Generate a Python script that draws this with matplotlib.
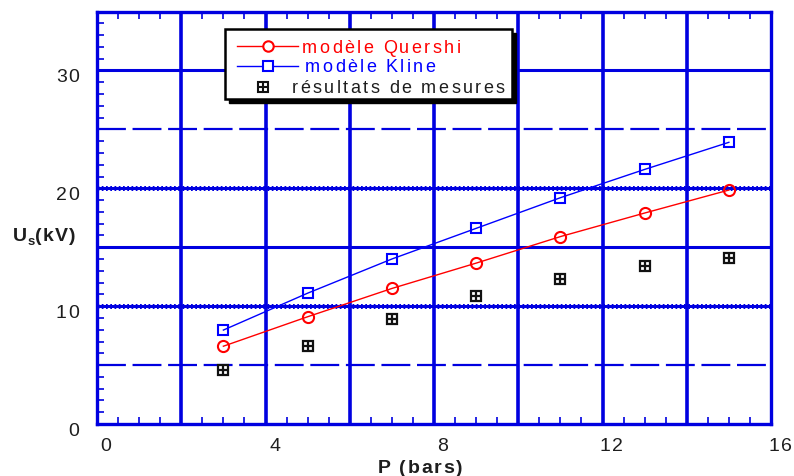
import matplotlib
matplotlib.use("Agg")
import matplotlib.pyplot as plt
from matplotlib import ft2font
from matplotlib.font_manager import findfont, FontProperties
from matplotlib.patches import Rectangle
from matplotlib.lines import Line2D
import numpy as np

plt.rcParams['font.family'] = ['Liberation Sans', 'DejaVu Sans']

# Pressure (bars) and breakdown voltage (kV)
pressure = [3, 5, 7, 9, 11, 13, 15]
u_quershi = [6.6, 9.1, 11.5, 13.65, 15.9, 17.9, 19.85]
u_kline = [7.97, 11.1, 14.0, 16.6, 19.2, 21.6, 23.9]
u_mesures = [4.6, 6.6, 8.9, 10.9, 12.3, 13.4, 14.05]

series_labels = ["modèle Quershi", "modèle Kline", "résultats de mesures"]
x_ticks = [0, 4, 8, 12, 16]
y_ticks = [0, 10, 20, 30]
x_grid = [2, 4, 6, 8, 10, 12, 14]
y_grid_solid = [10, 15, 20, 30]
y_grid_dotted = [10, 20]
y_grid_dashed = [5, 25]

BLUE_GRID = '#0000e0'
RED = '#ff0000'
BLUE = '#0000ff'
TXT = '#1e1e1e'
DARK = '#111111'

W, H = 794, 477
fig = plt.figure(figsize=(W / 100, H / 100), dpi=100)
L, R, T, B = 97, 771, 12.5, 425
ax = fig.add_axes([L / W, 1 - B / H, (R - L) / W, (B - T) / H])
ax.set_xlim(0, 16)
ax.set_ylim(0, 35)

try:
    NOHINT = ft2font.LoadFlags.NO_HINTING
except AttributeError:
    NOHINT = ft2font.LOAD_NO_HINTING


def advances(s, size, weight):
    f = ft2font.FT2Font(findfont(FontProperties(family='Liberation Sans', weight=weight)))
    f.set_size(size, 100)
    return [f.load_char(ord(ch), flags=NOHINT).linearHoriAdvance / 65536 for ch in s]


def spaced_text(x, y, s, size, spacing, ha='left', weight='normal', color=TXT, z=15):
    """Draw a string in pixel coords (y down) with extra letter spacing."""
    adv = advances(s, size, weight)
    total = sum(adv) + spacing * (len(s) - 1)
    if ha == 'center':
        x = x - total / 2
    elif ha == 'right':
        x = x - total
    for ch, a in zip(s, adv):
        if ch != ' ':
            fig.text(x / W, 1 - y / H, ch, ha='left', va='baseline', fontsize=size,
                     fontweight=weight, color=color, zorder=z)
        x += a + spacing
    return x


# grid
for xv in x_grid:
    ax.axvline(xv, color=BLUE_GRID, lw=2.6, zorder=1)
for yv in y_grid_solid:
    ax.axhline(yv, color=BLUE_GRID, lw=2.2, zorder=1)
for yv in y_grid_dotted:
    ax.axhline(yv, color=BLUE_GRID, lw=3.6, ls=(0, (0.35, 0.5)), zorder=1)
for yv in y_grid_dashed:
    ax.axhline(yv, color=BLUE_GRID, lw=1.6, ls=(0, (13, 3)), zorder=1)

for s in ax.spines.values():
    s.set_color(BLUE_GRID)
    s.set_linewidth(2.4)

# series
ax.plot(pressure, u_quershi, color=RED, lw=1.0, marker='o', ms=8,
        mfc='none', mec=RED, mew=1.5, zorder=3)
ax.plot(pressure, u_kline, color=BLUE, lw=1.0, marker='s', ms=7.5,
        mfc='none', mec=BLUE, mew=1.5, zorder=3)
ax.plot(pressure, u_mesures, ls='none', marker='s', ms=7, mfc='white',
        mec=DARK, mew=1.6, zorder=3)
ax.plot(pressure, u_mesures, ls='none', marker='+', ms=7, mec=DARK,
        mew=1.6, zorder=4)

# ticks (labels drawn separately with letter spacing)
ax.set_xticks(x_ticks)
ax.set_yticks(y_ticks)
ax.set_xticklabels([])
ax.set_yticklabels([])
ax.set_xticks(np.arange(0, 16.01, 0.5), minor=True)
ax.set_yticks(np.arange(0, 35.01, 1), minor=True)
ax.tick_params(which='major', length=0)
ax.tick_params(which='minor', direction='in', length=5, width=1.2,
               color=BLUE_GRID, top=True, right=False)

to_px = ax.transData
for xv in x_ticks:
    px = to_px.transform((xv, 0))[0]
    spaced_text(px + 9, 451, str(xv), 14, 1.5, ha='center')
for yv in y_ticks:
    py = H - to_px.transform((0, yv))[1]
    spaced_text(79, py + 11, str(yv), 14, 1.5, ha='right')

# axis titles
spaced_text(420, 473, "P (bars)", 14, 1.8, ha='center', weight='bold')
xe = spaced_text(13, 241, "U", 14, 1.0, weight='bold')
xe = spaced_text(xe - 1, 245, "s", 9.5, 1.0, weight='bold')
spaced_text(xe, 241, "(kV)", 14, 1.0, weight='bold')


# legend box drawn in pixel coordinates
def fx(px):
    return px / W


def fy(py):
    return 1 - py / H


bx0, by0, bx1, by1 = 225, 30, 512, 100
fig.add_artist(Rectangle((fx(bx0 + 4), fy(by1 + 4)), (bx1 - bx0) / W, (by1 - by0) / H,
                         transform=fig.transFigure, facecolor='black',
                         edgecolor='black', zorder=10))
fig.add_artist(Rectangle((fx(bx0), fy(by1)), (bx1 - bx0) / W, (by1 - by0) / H,
                         transform=fig.transFigure, facecolor='white',
                         edgecolor='black', lw=1.8, zorder=11))

rows = [47, 67, 88]
fig.add_artist(Line2D([fx(237), fx(298)], [fy(rows[0])] * 2, transform=fig.transFigure,
                      color=RED, lw=1.0, zorder=12))
fig.add_artist(Line2D([fx(268)], [fy(rows[0])], transform=fig.transFigure,
                      marker='o', ms=7.5, mfc='white', mec=RED, mew=1.5, zorder=13))
fig.add_artist(Line2D([fx(237), fx(298)], [fy(rows[1])] * 2, transform=fig.transFigure,
                      color=BLUE, lw=1.0, zorder=12))
fig.add_artist(Line2D([fx(268)], [fy(rows[1])], transform=fig.transFigure,
                      marker='s', ms=7, mfc='white', mec=BLUE, mew=1.5, zorder=13))
fig.add_artist(Line2D([fx(263)], [fy(rows[2])], transform=fig.transFigure,
                      marker='s', ms=6.5, mfc='white', mec=DARK, mew=1.5, zorder=13))
fig.add_artist(Line2D([fx(263)], [fy(rows[2])], transform=fig.transFigure,
                      marker='+', ms=6.5, mec=DARK, mew=1.5, zorder=14))

legend_x = [302, 305, 292]
legend_base = [53, 72, 93]
legend_colors = [RED, BLUE, TXT]
for lbl, yy, xx, c in zip(series_labels, legend_base, legend_x, legend_colors):
    spaced_text(xx, yy, lbl, 13, 2.4, color=c)

fig.savefig("out.png", dpi=100)
